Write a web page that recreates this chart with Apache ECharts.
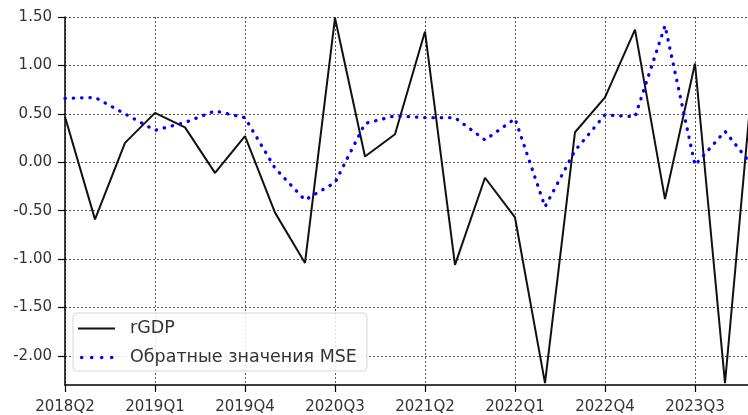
<!DOCTYPE html>
<html>
<head>
<meta charset="utf-8">
<script src="https://cdn.jsdelivr.net/npm/echarts@6/dist/echarts.min.js"></script>
<style>
  html, body { margin: 0; padding: 0; background: #fff; overflow: hidden; }
  /* the plotting area runs a few pixels past the right edge of the window */
  #chart { width: 755px; height: 415px; }
</style>
</head>
<body>
<div id="chart"></div>
<script>
// Quarterly observations
const quarters = ['2018Q2','2018Q3','2018Q4','2019Q1','2019Q2','2019Q3','2019Q4','2020Q1',
                  '2020Q2','2020Q3','2020Q4','2021Q1','2021Q2','2021Q3','2021Q4','2022Q1',
                  '2022Q2','2022Q3','2022Q4','2023Q1','2023Q2','2023Q3','2023Q4','2024Q1'];
const rGDP = [0.47, -0.59, 0.20, 0.51, 0.36, -0.11, 0.27, -0.52, -1.04, 1.49, 0.06, 0.29,
              1.35, -1.06, -0.16, -0.57, -2.28, 0.31, 0.67, 1.37, -0.38, 1.02, -2.28, 1.15];
const inverseMSE = [0.66, 0.67, 0.50, 0.33, 0.41, 0.53, 0.46, -0.06, -0.39, -0.21, 0.40, 0.48,
                    0.46, 0.46, 0.23, 0.45, -0.46, 0.12, 0.49, 0.47, 1.41, -0.03, 0.32, -0.07];
const yTicks = [-2, -1.5, -1, -0.5, 0, 0.5, 1, 1.5];

const FONT = 'DejaVu Sans';
const gridLine = { color: '#555', width: 1, type: [2, 2] };

// legend glyphs: a solid bar and a row of four dots
function dot(cx, cy, r) {
  return 'M' + (cx - r) + ',' + cy + ' a' + r + ',' + r + ' 0 1,0 ' + (2 * r) + ',0 a' + r + ',' + r + ' 0 1,0 ' + (-2 * r) + ',0 ';
}
const barIcon = 'path://M0,0 M37,4 M0,0.9 L37,0.9 L37,3.1 L0,3.1 Z';
const dotsIcon = 'path://M0,0 M37,4 ' + dot(3.7, 2, 1.8) + dot(13.7, 2, 1.8) + dot(23.7, 2, 1.8) + dot(33.7, 2, 1.8);

const chart = echarts.init(document.getElementById('chart'), null, { renderer: 'canvas' });
chart.setOption({
  animation: false,
  backgroundColor: '#fff',
  grid: { left: 65, right: 0, top: 17, bottom: 30, containLabel: false },
  legend: {
    orient: 'vertical',
    left: 73,
    top: 313,
    padding: [5, 10, 3, 5],
    itemGap: 8,
    itemWidth: 37,
    itemHeight: 4,
    backgroundColor: 'rgba(255,255,255,0.85)',
    borderColor: '#d6d6d6',
    borderWidth: 1,
    borderRadius: 4,
    textStyle: { fontFamily: FONT, fontSize: 17.5, color: '#333', lineHeight: 21, padding: [0, 0, 0, 10] },
    data: [
      { name: 'rGDP', icon: barIcon, itemStyle: { color: '#111', borderWidth: 0 } },
      { name: 'Обратные значения MSE', icon: dotsIcon, itemStyle: { color: '#0000ff', borderWidth: 0 } }
    ]
  },
  xAxis: {
    type: 'category',
    data: quarters,
    boundaryGap: false,
    axisLine: { show: true, onZero: false, lineStyle: { color: '#000', width: 1.5 } },
    axisTick: { show: true, interval: 2, length: 7, lineStyle: { color: '#000', width: 1.2 } },
    axisLabel: { interval: 2, fontFamily: FONT, fontSize: 15, color: '#333', margin: 15 },
    splitLine: { show: true, interval: 2, lineStyle: gridLine }
  },
  yAxis: {
    type: 'value',
    min: -2.3,
    max: 1.5,
    axisLine: { show: true, lineStyle: { color: '#000', width: 1.5 } },
    axisTick: { show: true, length: 7, customValues: yTicks, lineStyle: { color: '#000', width: 1.2 } },
    axisLabel: { customValues: yTicks, formatter: v => v.toFixed(2), fontFamily: FONT, fontSize: 15, color: '#333', margin: 13 },
    splitLine: { show: true, lineStyle: gridLine }
  },
  series: [
    {
      name: 'rGDP',
      type: 'line',
      data: rGDP,
      showSymbol: false,
      symbol: 'none',
      lineStyle: { color: '#111', width: 2 },
      itemStyle: { color: '#111' }
    },
    {
      name: 'Обратные значения MSE',
      type: 'line',
      data: inverseMSE,
      showSymbol: false,
      symbol: 'none',
      lineStyle: { color: '#0000ff', width: 3.3, type: [0.4, 7.9], cap: 'round' },
      itemStyle: { color: '#0000ff' }
    }
  ]
});
</script>
</body>
</html>
